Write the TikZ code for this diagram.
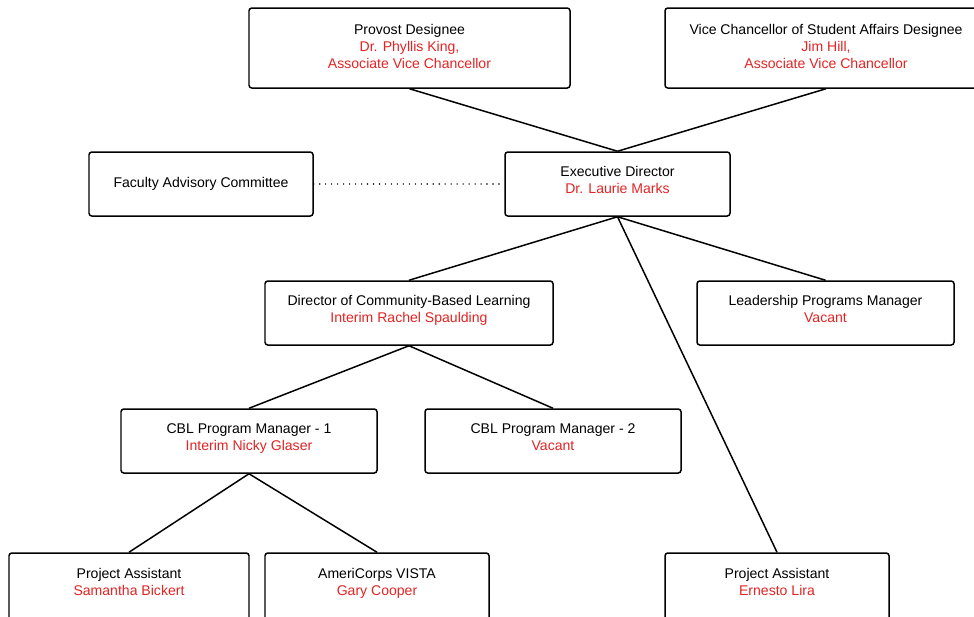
\documentclass[tikz,border=0pt]{standalone}
\usepackage{fontspec}
\setmainfont{Liberation Sans}
\usepackage{tikz}
\usetikzlibrary{shapes,arrows}
\definecolor{namered}{RGB}{226,36,36}
\tikzstyle{box} = [rectangle, rounded corners=1.6pt, draw=black, line width=0.85pt, align=center, font=\fontsize{8}{9.7}\selectfont, minimum height=1.28cm, inner sep=0pt, text depth=5pt]
\tikzstyle{line} = [draw, line width=0.85pt]
\tikzstyle{dots} = [draw, line width=0.9pt, line cap=round, dash pattern=on 0pt off 3.4pt]
\newcommand{\who}[1]{\textcolor{namered}{#1}}

\begin{document}
\begin{tikzpicture}
        \useasboundingbox (0,0) rectangle (19.48,-12.32);
        \node (Prov) [box, xshift=8.19cm, yshift=-0.96cm, minimum width=6.42cm, minimum height=1.6cm, text depth=2pt] {Provost Designee\\ \who{Dr. Phyllis King,}\\ \who{Associate Vice Chancellor}};
        \node (VCSA) [box, xshift=16.52cm, yshift=-0.96cm, minimum width=6.44cm, minimum height=1.6cm, text depth=2pt] {Vice Chancellor of Student Affairs Designee\\ \who{Jim Hill,}\\ \who{Associate Vice Chancellor}};
        \node (Fac) [box, xshift=4.02cm, yshift=-3.68cm, minimum width=4.48cm, text depth=2pt] {Faculty Advisory Committee};
        \node (Exec) [box, xshift=12.35cm, yshift=-3.68cm, minimum width=4.5cm] {Executive Director\\ \who{Dr. Laurie Marks}};

        \node (DirCBL) [box, xshift=8.18cm, yshift=-6.26cm, minimum width=5.76cm] {Director of Community-Based Learning\\ \who{Interim Rachel Spaulding}};
        \node (Lead) [box, xshift=16.51cm, yshift=-6.26cm, minimum width=5.14cm] {Leadership Programs Manager\\ \who{Vacant}};
        \node (PMone) [box, xshift=4.98cm, yshift=-8.82cm, minimum width=5.12cm] {CBL Program Manager - 1\\ \who{Interim Nicky Glaser}};
        \node (PMtwo) [box, xshift=11.06cm, yshift=-8.82cm, minimum width=5.12cm] {CBL Program Manager - 2\\ \who{Vacant}};

        % bottom row runs past the lower edge
        \node (PAone) [box, xshift=2.58cm, yshift=-11.73cm, minimum width=4.8cm, minimum height=1.34cm] {Project Assistant\\ \who{Samantha Bickert}};
        \node (Vista) [box, xshift=7.54cm, yshift=-11.73cm, minimum width=4.48cm, minimum height=1.34cm] {AmeriCorps VISTA\\ \who{Gary Cooper}};
        \node (PAtwo) [box, xshift=15.54cm, yshift=-11.73cm, minimum width=4.48cm, minimum height=1.34cm] {Project Assistant\\ \who{Ernesto Lira}};

        \path [line] (Prov.south) -- (Exec.north);
        \path [line] (VCSA.south) -- (Exec.north);
        \path [dots] (Fac.east) -- (Exec.west);
        \path [line] (Exec.south) -- (DirCBL.north);
        \path [line] (Exec.south) -- (Lead.north);
        \path [line] (Exec.south) -- (PAtwo.north);
        \path [line] (DirCBL.south) -- (PMone.north);
        \path [line] (DirCBL.south) -- (PMtwo.north);
        \path [line] (PMone.south) -- (PAone.north);
        \path [line] (PMone.south) -- (Vista.north);
    \end{tikzpicture}
\end{document}
